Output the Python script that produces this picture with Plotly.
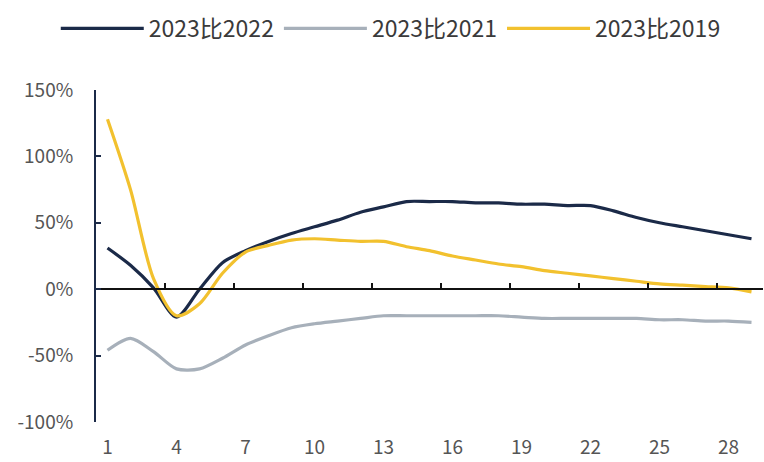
import plotly.graph_objects as go

# Day index (1..29)
days = list(range(1, 30))

# Year-over-year comparison, %
vs_2022 = [31, 18, 1, -21, 0, 20, 29, 36, 42, 47, 52, 58, 62, 66, 66, 66, 65,
           65, 64, 64, 63, 63, 59, 54, 50, 47, 44, 41, 38]
vs_2021 = [-46, -37, -47, -60, -60, -52, -42, -35, -29, -26, -24, -22, -20, -20,
           -20, -20, -20, -20, -21, -22, -22, -22, -22, -22, -23, -23, -24, -24, -25]
vs_2019 = [128, 75, 8, -20, -11, 12, 28, 33, 37, 38, 37, 36, 36, 32, 29, 25, 22,
           19, 17, 14, 12, 10, 8, 6, 4, 3, 2, 1, -2]

series_names = ["2023比2022", "2023比2021", "2023比2019"]
series_colors = ["#1b2a48", "#a7b0ba", "#f2c12e"]

y_tick_vals = [-100, -50, 0, 50, 100, 150]
y_tick_text = ["-100%", "-50%", "0%", "50%", "100%", "150%"]

FONT = "Noto Sans CJK SC"

fig = go.Figure()
for name, vals, color in zip(series_names, [vs_2022, vs_2021, vs_2019], series_colors):
    fig.add_trace(go.Scatter(
        x=days, y=vals, name=name, mode="lines",
        line=dict(color=color, width=3.2, shape="spline", smoothing=0.8),
        xaxis="x2" if name == "2023比2021" else "x",
    ))

fig.update_layout(
    width=764, height=462,
    margin=dict(l=96, r=1, t=90, b=40),
    paper_bgcolor="white", plot_bgcolor="white",
    font=dict(family=FONT, color="#555555", size=19),
    showlegend=True,
    legend=dict(orientation="h", xref="container", x=0.073, y=0.985,
                xanchor="left", yanchor="top", yref="container",
                font=dict(size=23, color="#3a3a3a"),
                itemwidth=83, traceorder="normal", tracegroupgap=0,
                entrywidth=0),
    # bottom axis: labels only
    xaxis=dict(range=[0.5, 29.5], tick0=1, dtick=3, showline=False, ticks="",
               showgrid=False, zeroline=False, tickfont=dict(size=19),
               ticklabelstandoff=12),
    # axis drawn along the 0% line, tick marks between day groups
    xaxis2=dict(overlaying="x", matches="x", anchor="free", position=0.4,
                range=[0.5, 29.5], tick0=0.5, dtick=3, showticklabels=False,
                showline=True, linecolor="#111111", linewidth=2,
                ticks="inside", ticklen=5, tickwidth=2, tickcolor="#111111",
                showgrid=False, zeroline=False),
    yaxis=dict(range=[-100, 150], tickvals=y_tick_vals, ticktext=y_tick_text,
               showline=True, linecolor="#1b2a48", linewidth=2,
               ticks="inside", ticklen=5, tickwidth=2, tickcolor="#1b2a48",
               showgrid=False, zeroline=False, tickfont=dict(size=19),
               ticklabelstandoff=17),
)

fig.write_html("out.html")
